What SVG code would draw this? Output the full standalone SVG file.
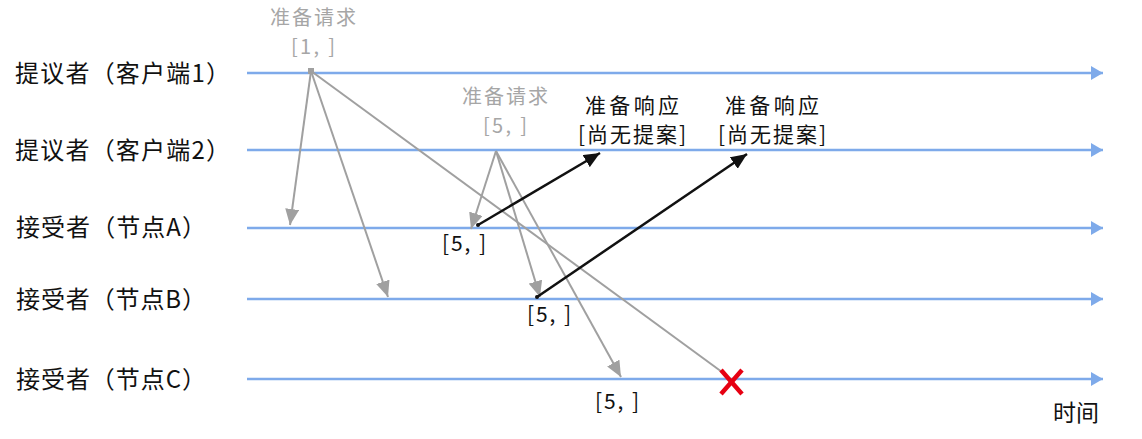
<svg xmlns="http://www.w3.org/2000/svg" width="1142" height="439" viewBox="0 0 1142 439">
<style>
.lbl{font-family:"Noto Sans CJK SC","Liberation Sans",sans-serif;font-size:24px;fill:#111}
.g{font-family:"Noto Sans CJK SC","Liberation Sans",sans-serif;font-size:20px;fill:#a6a6a6;text-anchor:middle}
.b{font-family:"Noto Sans CJK SC","Liberation Sans",sans-serif;font-size:21px;fill:#111;text-anchor:middle}
.tl{stroke:#7eaaea;stroke-width:2.5;fill:none}
.ga{stroke:#a0a0a0;stroke-width:2;fill:none}
.ka{stroke:#111;stroke-width:2.5;fill:none}
</style>
<defs>
<marker id="ab" viewBox="0 0 12 14" refX="12" refY="7" markerWidth="12" markerHeight="14" markerUnits="userSpaceOnUse" orient="auto"><path d="M0,0 L12,7 L0,14 Z" fill="#7eaaea"/></marker>
<marker id="ag" viewBox="0 0 16 14" refX="16" refY="7" markerWidth="16" markerHeight="14" markerUnits="userSpaceOnUse" orient="auto"><path d="M0,0 L16,7 L0,14 Z" fill="#a0a0a0"/></marker>
<marker id="ak" viewBox="0 0 16 14" refX="16" refY="7" markerWidth="16" markerHeight="14" markerUnits="userSpaceOnUse" orient="auto"><path d="M0,0 L16,7 L0,14 Z" fill="#111"/></marker>
</defs>
<g id="timelines">
<g id="p1"><text class="lbl" x="15" y="82" textLength="215" lengthAdjust="spacing">提议者（客户端1）</text><line class="tl" x1="247" y1="73" x2="1103" y2="73" marker-end="url(#ab)"/></g>
<g id="p2"><text class="lbl" x="15" y="159" textLength="215" lengthAdjust="spacing">提议者（客户端2）</text><line class="tl" x1="247" y1="150" x2="1103" y2="150" marker-end="url(#ab)"/></g>
<g id="a"><text class="lbl" x="16" y="236" textLength="190" lengthAdjust="spacing">接受者（节点A）</text><line class="tl" x1="247" y1="228" x2="1103" y2="228" marker-end="url(#ab)"/></g>
<g id="bb"><text class="lbl" x="16" y="308" textLength="190" lengthAdjust="spacing">接受者（节点B）</text><line class="tl" x1="247" y1="299" x2="1103" y2="299" marker-end="url(#ab)"/></g>
<g id="c"><text class="lbl" x="16" y="388" textLength="190" lengthAdjust="spacing">接受者（节点C）</text><line class="tl" x1="247" y1="379" x2="1103" y2="379" marker-end="url(#ab)"/></g>
<text class="b" x="1076" y="421" style="font-size:23px">时间</text>
</g>
<g id="labels">
<text class="g" x="313" y="25" textLength="86" lengthAdjust="spacing">准备请求</text>
<text class="g" x="313" y="54" textLength="44" lengthAdjust="spacing">[1, ]</text>
<text class="g" x="505" y="104" textLength="86" lengthAdjust="spacing">准备请求</text>
<text class="g" x="505" y="133" textLength="44" lengthAdjust="spacing">[5, ]</text>
<text class="b" x="632" y="113" textLength="94" lengthAdjust="spacing">准备响应</text>
<text class="b" x="632" y="142" textLength="108" lengthAdjust="spacing">[尚无提案]</text>
<text class="b" x="772" y="113" textLength="94" lengthAdjust="spacing">准备响应</text>
<text class="b" x="772" y="142" textLength="108" lengthAdjust="spacing">[尚无提案]</text>
<text class="b" x="464" y="251" textLength="44" lengthAdjust="spacing">[5, ]</text>
<text class="b" x="549" y="322" textLength="44" lengthAdjust="spacing">[5, ]</text>
<text class="b" x="617" y="409" textLength="44" lengthAdjust="spacing">[5, ]</text>
</g>
<g id="connectors">
<rect x="308" y="68" width="6" height="6" fill="#a0a0a0"/>
<line class="ga" x1="311" y1="71" x2="290" y2="225" marker-end="url(#ag)"/>
<line class="ga" x1="311" y1="71" x2="388" y2="297" marker-end="url(#ag)"/>
<line class="ga" x1="311" y1="71" x2="722" y2="372"/>
<line class="ga" x1="496" y1="151" x2="471" y2="229" marker-end="url(#ag)"/>
<line class="ga" x1="496" y1="151" x2="540" y2="297" marker-end="url(#ag)"/>
<line class="ga" x1="496" y1="151" x2="621" y2="377" marker-end="url(#ag)"/>
<line class="ka" x1="478" y1="225" x2="600" y2="153" marker-end="url(#ak)"/>
<line class="ka" x1="537" y1="297" x2="747" y2="154" marker-end="url(#ak)"/>
<circle cx="478" cy="225" r="2" fill="#111"/>
<circle cx="537" cy="297" r="2" fill="#111"/>
</g>
<g id="x" stroke="#e60012" stroke-width="4.5">
<line x1="721" y1="370" x2="742" y2="394"/>
<line x1="742" y1="370" x2="721" y2="394"/>
</g>
</svg>
